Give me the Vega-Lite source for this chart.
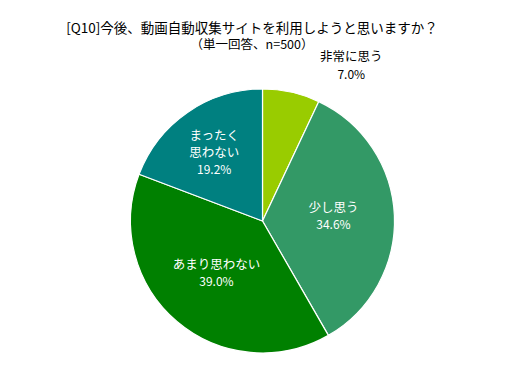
{
  "$schema": "https://vega.github.io/schema/vega-lite/v6.json",
  "autosize": "none",
  "width": 264,
  "height": 264,
  "padding": {"left": 130.5, "top": 89, "right": 112.5, "bottom": 13},
  "background": "white",
  "title": {
    "text": "[Q10]今後、動画自動収集サイトを利用しようと思いますか？",
    "subtitle": "（単一回答、n=500）",
    "anchor": "middle",
    "dx": -10.5,
    "offset": -1,
    "font": "Noto Sans CJK JP",
    "fontSize": 13.5,
    "fontWeight": "normal",
    "color": "#000000",
    "subtitleFont": "Noto Sans CJK JP",
    "subtitleFontSize": 12.5,
    "subtitleColor": "#000000",
    "subtitlePadding": 4
  },
  "config": {"view": {"stroke": null}},
  "data": {
    "values": [
      {"cat": "非常に思う", "label": "非常に思う", "value": 0.07, "rank": 1},
      {"cat": "少し思う", "label": "少し思う", "value": 0.346, "rank": 2},
      {"cat": "あまり思わない", "label": "あまり思わない", "value": 0.39, "rank": 3},
      {"cat": "まったく思わない", "label": "まったく\n思わない", "value": 0.192, "rank": 4}
    ]
  },
  "encoding": {
    "theta": {"field": "value", "type": "quantitative", "stack": true},
    "order": {"field": "rank", "type": "quantitative"}
  },
  "layer": [
    {
      "mark": {"type": "arc", "stroke": "white", "strokeWidth": 1.2},
      "encoding": {
        "color": {
          "field": "cat",
          "type": "nominal",
          "scale": {
            "domain": ["非常に思う", "少し思う", "あまり思わない", "まったく思わない"],
            "range": ["#99CC00", "#339966", "#008000", "#008080"]
          },
          "legend": null
        }
      }
    },
    {
      "mark": {"type": "text", "font": "Noto Sans CJK JP", "fontSize": 12.5, "fill": "white", "radius": 71, "dy": -10, "baseline": "middle"},
      "encoding": {
        "text": {"condition": {"test": "datum.rank == 2 || datum.rank == 3", "field": "label"}, "value": ""}
      }
    },
    {
      "mark": {"type": "text", "font": "Noto Sans CJK JP", "fontSize": 12, "fill": "white", "radius": 71, "dy": 7, "baseline": "middle"},
      "encoding": {
        "text": {"condition": {"test": "datum.rank == 2 || datum.rank == 3", "field": "value", "format": ".1%"}, "value": ""}
      }
    },
    {
      "mark": {"type": "text", "font": "Noto Sans CJK JP", "fontSize": 12.5, "fill": "white", "radius": 85, "dy": -15, "baseline": "middle", "lineBreak": "\n", "lineHeight": 17},
      "encoding": {
        "text": {"condition": {"test": "datum.rank == 4", "field": "label"}, "value": ""}
      }
    },
    {
      "mark": {"type": "text", "font": "Noto Sans CJK JP", "fontSize": 12, "fill": "white", "radius": 85, "dy": 19, "baseline": "middle"},
      "encoding": {
        "text": {"condition": {"test": "datum.rank == 4", "field": "value", "format": ".1%"}, "value": ""}
      }
    },
    {
      "mark": {"type": "text", "font": "Noto Sans CJK JP", "fontSize": 12.5, "fill": "black", "radius": 159, "dx": 54, "dy": -9, "baseline": "middle"},
      "encoding": {
        "text": {"condition": {"test": "datum.rank == 1", "field": "label"}, "value": ""}
      }
    },
    {
      "mark": {"type": "text", "font": "Noto Sans CJK JP", "fontSize": 12, "fill": "black", "radius": 159, "dx": 54, "dy": 9, "baseline": "middle"},
      "encoding": {
        "text": {"condition": {"test": "datum.rank == 1", "field": "value", "format": ".1%"}, "value": ""}
      }
    }
  ]
}
